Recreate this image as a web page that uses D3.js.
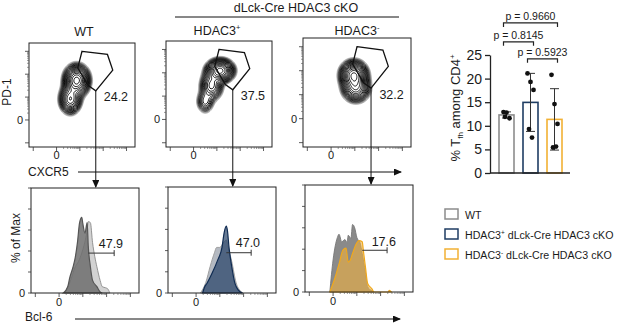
<!DOCTYPE html>
<html><head><meta charset="utf-8">
<script src="https://cdn.jsdelivr.net/npm/d3@7"></script>
<style>
body{margin:0;background:#fff}
text{font-family:"Liberation Sans",Arial,sans-serif;fill:#1a1a1a}
</style>
</head><body><div id="fig"></div><script>
const W = 617, H = 324;

// ---- flow panels (data units 0..100 on both axes) ----
const gatePct = ["24.2", "37.5", "32.2"];
const histPct = ["47.9", "47.0", "17.6"];
const gateVerts = [[50, 92], [74, 89], [79, 74], [63, 54], [56, 59], [46, 76]];
// contour blobs: centre, spread, weight
const blobsWT = [{x: 45, y: 64, sx: 5.5, sy: 6.8, w: 1}, {x: 39, y: 46, sx: 4.8, sy: 6.5, w: 0.6}];
const blobsPos = [{x: 51, y: 72, sx: 6, sy: 5, w: 1}, {x: 43, y: 58, sx: 5, sy: 6.5, w: 0.45}, {x: 37, y: 43, sx: 4, sy: 5.5, w: 0.2}];
const blobsNeg = [{x: 47, y: 66, sx: 5.8, sy: 6, w: 1}, {x: 49, y: 54, sx: 6, sy: 6, w: 0.6}];

// ---- histograms: [x, % of max] ----
const h1Back = [[31,0],[36,10],[41,25],[44,30],[47,38],[49,45],[52,60],[53,68],[55,67],[57,48],[59,35],[61,25],[64,12],[66,6],[69,5],[71,4],[73,0]];
const h1Front = [[30,0],[34,6],[36,15],[39,25],[41,34],[43,48],[45,67],[47,72],[48,66],[50,57],[52,67],[53,45],[55,25],[57,12],[61,6],[64,1],[66,0]];
const h2Back = [[30,0],[35,10],[39,25],[43,38],[45,43],[48,43],[51,47],[54,50],[56,42],[59,30],[63,10],[67,2],[69,0]];
const h2Front = [[32,0],[34,6],[36,9],[41,19],[46,31],[50,43],[52,57],[54,63],[55,59],[56.5,43],[59,25],[62,9],[65,3],[69,0]];
const h3Back = [[23,0],[26,30],[30,51],[31.5,54],[34,47],[37,49],[39,46],[40,53],[42.5,50],[44,63],[46,60],[48,51],[51,46],[53,36],[56,18],[58,5],[62,1],[64,0]];
const h3Front = [[23,0],[28,14],[32,28],[35,39],[38,41],[40,28],[42,30],[44,36],[48,46],[50,48],[53,47],[54,39],[56,23],[58,8],[62,3],[64,0],[77,0],[78,1.5],[80,0]];
const histGates = [[53, 77, 38], [54, 77, 38], [53, 76, 39]];

// ---- bar chart ----
const groups = ["WT", "HDAC3+", "HDAC3-"];
const groupColors = ["#8c8c8c", "#1f3d63", "#f2b134"];
const groupValues = [[12.9, 12.8, 11.6, 11.9], [21.1, 19.3, 17.6, 9.3, 7.5], [20.8, 14.6, 10.4, 5.4, 5.6]];
const barTicks = [0, 5, 10, 15, 20, 25];
const comparisons = [{a: 0, b: 2, p: "p = 0.9660", y: 31.8}, {a: 0, b: 1, p: "p = 0.8145", y: 27.8}, {a: 1, b: 2, p: "p = 0.5923", y: 24.2}];

const svg = d3.select("#fig").append("svg").attr("width", W).attr("height", H);

svg.append("defs").append("marker")
  .attr("id", "arr").attr("markerUnits", "userSpaceOnUse")
  .attr("markerWidth", 8).attr("markerHeight", 7)
  .attr("refX", 7).attr("refY", 3.5).attr("orient", "auto")
  .append("path").attr("d", "M0,0 L8,3.5 L0,7 Z").attr("fill", "#111");

const topBoxes = [{x0: 29, x1: 135, y0: 43, y1: 147}, {x0: 166, x1: 272, y0: 41, y1: 147}, {x0: 303, x1: 411, y0: 38, y1: 147}];
const botBoxes = [{x0: 31, x1: 139, y0: 188, y1: 293}, {x0: 168, x1: 276, y0: 187, y1: 293}, {x0: 305, x1: 413, y0: 185, y1: 292}];
const blobSets = [blobsWT, blobsPos, blobsNeg];

// biexponential-ish tick positions
const majorT = [4, 26, 48, 70, 92];
const minorT = [];
majorT.slice(1, 4).forEach(m => { for (let k = 2; k < 10; k++) minorT.push(m + 22 * Math.log10(k)); });

function ticks(g, box, sx, sy) {
  majorT.forEach(t => {
    g.append("line").attr("x1", sx(t)).attr("x2", sx(t)).attr("y1", box.y1).attr("y2", box.y1 + 4).attr("stroke", "#333").attr("stroke-width", 0.8);
    if (sy) g.append("line").attr("y1", sy(t)).attr("y2", sy(t)).attr("x1", box.x0).attr("x2", box.x0 - 4).attr("stroke", "#333").attr("stroke-width", 0.8);
  });
  minorT.forEach(t => {
    g.append("line").attr("x1", sx(t)).attr("x2", sx(t)).attr("y1", box.y1).attr("y2", box.y1 + 2).attr("stroke", "#555").attr("stroke-width", 0.6);
    if (sy) g.append("line").attr("y1", sy(t)).attr("y2", sy(t)).attr("x1", box.x0).attr("x2", box.x0 - 2).attr("stroke", "#555").attr("stroke-width", 0.6);
  });
}

function drawContours(g, box, blobs) {
  const n = 100, vals = new Float64Array(n * n);
  for (let j = 0; j < n; j++) for (let i = 0; i < n; i++) {
    const x = i + 0.5, y = 100 - (j + 0.5);
    let s = 0;
    blobs.forEach(b => { s += b.w * Math.exp(-((x - b.x) ** 2 / (2 * b.sx * b.sx) + (y - b.y) ** 2 / (2 * b.sy * b.sy))); });
    vals[j * n + i] = s;
  }
  const mx = d3.max(vals);
  const levels = d3.range(19).map(i => 0.025 * Math.pow(1.22, i));
  const cs = d3.contours().size([n, n]).thresholds(levels.map(l => l * mx))(vals);
  const proj = d3.geoTransform({point(x, y) { this.stream.point(box.x0 + x * (box.x1 - box.x0) / n, box.y0 + y * (box.y1 - box.y0) / n); }});
  const col = d3.scaleLinear().domain([0, 3, 7]).range(["#a0a0a0", "#444", "#000"]).clamp(true);
  g.selectAll("path.ct").data(cs).join("path").attr("class", "ct")
    .attr("d", d3.geoPath(proj)).attr("fill", "none")
    .attr("stroke", (d, i) => col(i)).attr("stroke-width", (d, i) => i < 3 ? 0.6 : 0.9);
}

topBoxes.forEach((box, p) => {
  const g = svg.append("g");
  const sx = d3.scaleLinear([0, 100], [box.x0, box.x1]);
  const sy = d3.scaleLinear([0, 100], [box.y1, box.y0]);
  drawContours(g, box, blobSets[p]);
  g.append("rect").attr("x", box.x0).attr("y", box.y0).attr("width", box.x1 - box.x0).attr("height", box.y1 - box.y0)
    .attr("fill", "none").attr("stroke", "#222").attr("stroke-width", 1);
  ticks(g, box, sx, sy);
  g.append("path").attr("d", d3.line().x(d => sx(d[0])).y(d => sy(d[1])).curve(d3.curveLinearClosed)(gateVerts))
    .attr("fill", "none").attr("stroke", "#111").attr("stroke-width", 1.3);
  g.append("text").attr("x", sx(82)).attr("y", sy(44)).attr("text-anchor", "middle").attr("font-size", 12.5).text(gatePct[p]);
  g.append("text").attr("x", box.x0 - 6).attr("y", sy(26) + 4).attr("text-anchor", "end").attr("font-size", 11).text("0");
  g.append("text").attr("x", sx(26)).attr("y", box.y1 + 12).attr("text-anchor", "middle").attr("font-size", 11).text("0");
  const bot = botBoxes[p];
  g.append("line").attr("x1", sx(63)).attr("x2", sx(63)).attr("y1", sy(54)).attr("y2", bot.y0 - 1)
    .attr("stroke", "#111").attr("stroke-width", 1).attr("marker-end", "url(#arr)");
});

// panel titles
function supText(sel, base, sup, size) {
  sel.append("tspan").text(base);
  sel.append("tspan").attr("font-size", size * 0.6).attr("dy", -size * 0.38).text(sup);
}
svg.append("text").attr("x", 84).attr("y", 36).attr("text-anchor", "middle").attr("font-size", 12.5).text("WT");
supText(svg.append("text").attr("x", 217).attr("y", 35).attr("text-anchor", "middle").attr("font-size", 12.5), "HDAC3", "+", 12.5);
supText(svg.append("text").attr("x", 357).attr("y", 35).attr("text-anchor", "middle").attr("font-size", 12.5), "HDAC3", "-", 12.5);
svg.append("text").attr("x", 296).attr("y", 12).attr("text-anchor", "middle").attr("font-size", 12.5).text("dLck-Cre HDAC3 cKO");
svg.append("line").attr("x1", 175).attr("x2", 399).attr("y1", 17).attr("y2", 17).attr("stroke", "#111").attr("stroke-width", 1);

svg.append("text").attr("transform", "translate(10.5,92) rotate(-90)").attr("text-anchor", "middle").attr("font-size", 12).text("PD-1");
svg.append("text").attr("x", 28).attr("y", 176).attr("font-size", 12).text("CXCR5");
svg.append("line").attr("x1", 78).attr("x2", 401).attr("y1", 172).attr("y2", 172).attr("stroke", "#111").attr("stroke-width", 1).attr("marker-end", "url(#arr)");

// ---- histograms ----
const histSets = [
  {back: h1Back, front: h1Front, bf: "#d2d2d2", bs: "#8a8a8a", ff: "#6f6f6f", fo: 0.85, fs: "#555"},
  {back: h2Back, front: h2Front, bf: "#b4b9c1", bs: "#9a9a9a", ff: "#1f3d63", fo: 0.68, fs: "#0f2b52"},
  {back: h3Back, front: h3Front, bf: "#8a8a8a", bs: "#777", ff: "#f0b040", fo: 0.6, fs: "#f0a81c"}
];
botBoxes.forEach((box, p) => {
  const g = svg.append("g");
  const sx = d3.scaleLinear([0, 100], [box.x0, box.x1]);
  const sy = d3.scaleLinear([0, 100], [box.y1, box.y0]);
  const hs = histSets[p];
  const area = d3.area().x(d => sx(d[0])).y0(box.y1).y1(d => sy(d[1])).curve(d3.curveMonotoneX);
  g.append("path").attr("d", area(hs.back)).attr("fill", hs.bf).attr("stroke", hs.bs).attr("stroke-width", 0.9);
  g.append("path").attr("d", area(hs.front)).attr("fill", hs.ff).attr("fill-opacity", hs.fo).attr("stroke", hs.fs).attr("stroke-width", 1.2);
  g.append("rect").attr("x", box.x0).attr("y", box.y0).attr("width", box.x1 - box.x0).attr("height", box.y1 - box.y0)
    .attr("fill", "none").attr("stroke", "#222").attr("stroke-width", 1);
  ticks(g, box, sx, null);
  [0, 20, 40, 60, 80, 100].forEach(t => g.append("line").attr("x1", box.x0).attr("x2", box.x0 - 3).attr("y1", sy(t)).attr("y2", sy(t)).attr("stroke", "#333").attr("stroke-width", 0.8));
  const hg = histGates[p];
  g.append("line").attr("x1", sx(hg[0])).attr("x2", sx(hg[1])).attr("y1", sy(hg[2])).attr("y2", sy(hg[2])).attr("stroke", "#333").attr("stroke-width", 1);
  g.append("line").attr("x1", sx(hg[1])).attr("x2", sx(hg[1])).attr("y1", sy(hg[2]) - 3).attr("y2", sy(hg[2]) + 3).attr("stroke", "#333").attr("stroke-width", 1);
  g.append("text").attr("x", sx(hg[1] - 3)).attr("y", sy(43)).attr("text-anchor", "middle").attr("font-size", 12.5).text(histPct[p]);
  g.append("text").attr("x", box.x0 - 6).attr("y", box.y1 + 4).attr("text-anchor", "end").attr("font-size", 11).text("0");
  g.append("text").attr("x", sx(26)).attr("y", box.y1 + 13).attr("text-anchor", "middle").attr("font-size", 11).text("0");
});
svg.append("text").attr("transform", "translate(20,238) rotate(-90)").attr("text-anchor", "middle").attr("font-size", 12).text("% of Max");
svg.append("text").attr("x", 25).attr("y", 321).attr("font-size", 12).text("Bcl-6");
svg.append("line").attr("x1", 75).attr("x2", 400).attr("y1", 319).attr("y2", 319).attr("stroke", "#111").attr("stroke-width", 1).attr("marker-end", "url(#arr)");

// ---- bar chart ----
const bx = d3.scaleBand().domain(groups).range([494.5, 566.5]).paddingInner(0.375).paddingOuter(0.1875);
const by = d3.scaleLinear().domain([0, 25]).range([173, 55]);
const bg = svg.append("g");
const stats = groupValues.map(v => ({m: d3.mean(v), s: d3.deviation(v)}));
bg.selectAll("rect.bar").data(groups).join("rect").attr("class", "bar")
  .attr("x", d => bx(d)).attr("width", bx.bandwidth())
  .attr("y", (d, i) => by(stats[i].m)).attr("height", (d, i) => by(0) - by(stats[i].m))
  .attr("fill", "#fff").attr("stroke", (d, i) => groupColors[i]).attr("stroke-width", 1.6);
const jit = [-3, 0, 3, -1.5, 1.5];
groups.forEach((gname, i) => {
  const cx = bx(gname) + bx.bandwidth() / 2;
  const st = stats[i];
  bg.append("line").attr("x1", cx).attr("x2", cx).attr("y1", by(st.m + st.s)).attr("y2", by(st.m - st.s)).attr("stroke", "#333").attr("stroke-width", 1);
  [st.m + st.s, st.m - st.s].forEach(v => bg.append("line").attr("x1", cx - 4.5).attr("x2", cx + 4.5).attr("y1", by(v)).attr("y2", by(v)).attr("stroke", "#333").attr("stroke-width", 1));
  bg.selectAll(null).data(groupValues[i]).join("circle")
    .attr("cx", (d, k) => cx + jit[k % jit.length]).attr("cy", d => by(d)).attr("r", 2.4).attr("fill", "#111");
});
const yAx = bg.append("g").attr("transform", "translate(490,0)").call(d3.axisLeft(by).tickValues(barTicks).tickSize(5).tickSizeOuter(0));
yAx.selectAll("text").attr("font-size", 14).attr("fill", "#1a1a1a").attr("font-family", "Liberation Sans, Arial, sans-serif");
yAx.selectAll("line,path").attr("stroke", "#222").attr("stroke-width", 1.3);
bg.append("line").attr("x1", 490).attr("x2", 570).attr("y1", by(0)).attr("y2", by(0)).attr("stroke", "#222").attr("stroke-width", 1.3);
comparisons.forEach(c => {
  const x1 = bx(groups[c.a]) + bx.bandwidth() / 2 - 3, x2 = bx(groups[c.b]) + bx.bandwidth() / 2 + 3, y = by(c.y);
  bg.append("path").attr("d", `M${x1},${y + 4}V${y}H${x2}V${y + 4}`).attr("fill", "none").attr("stroke", "#222").attr("stroke-width", 1.2);
  bg.append("text").attr("x", (x1 + x2) / 2).attr("y", y - 3).attr("text-anchor", "middle").attr("font-size", 10.5).text(c.p);
});
const yl = bg.append("text").attr("transform", "translate(460,108) rotate(-90)").attr("text-anchor", "middle").attr("font-size", 13);
yl.append("tspan").text("% T");
yl.append("tspan").attr("font-size", 8).attr("dy", 3).text("fh");
yl.append("tspan").attr("dy", -3).text(" among CD4");
yl.append("tspan").attr("font-size", 8).attr("dy", -5).text("+");

// legend
const legLabels = [["WT", "", ""], ["HDAC3", "+", " dLck-Cre HDAC3 cKO"], ["HDAC3", "-", " dLck-Cre HDAC3 cKO"]];
legLabels.forEach((l, i) => {
  const y = 209 + i * 20;
  svg.append("rect").attr("x", 445).attr("y", y).attr("width", 13).attr("height", 10).attr("fill", "#fff").attr("stroke", groupColors[i]).attr("stroke-width", 1.5);
  const t = svg.append("text").attr("transform", `translate(465,${y + 9.5}) scale(0.925,1)`).attr("font-size", 11.5);
  t.append("tspan").text(l[0]);
  if (l[1]) {
    t.append("tspan").attr("font-size", 7).attr("dy", -4).text(l[1]);
    t.append("tspan").attr("dy", 4).text(l[2]);
  }
});
</script></body></html>
